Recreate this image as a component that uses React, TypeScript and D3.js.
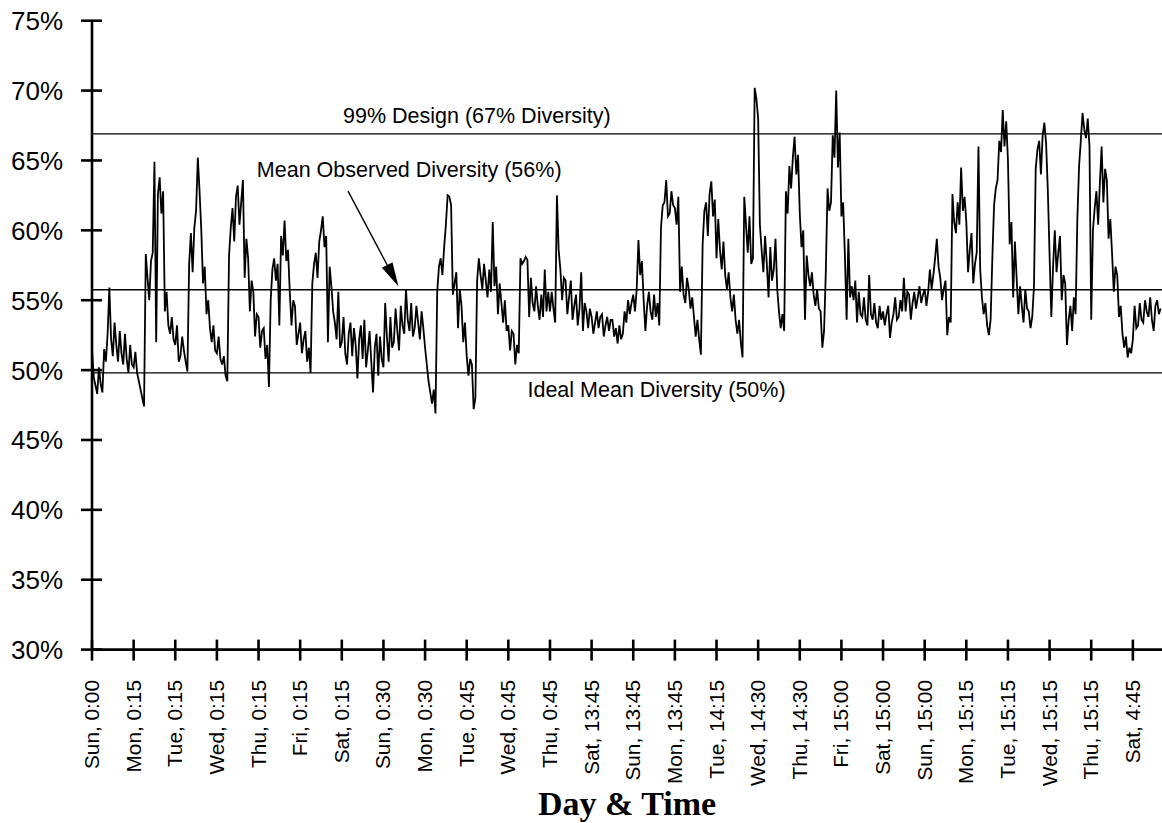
import React from 'react';
import * as d3 from 'd3';

// tick labels along the time axis, one per day marker
const dayTicks = [
  'Sun, 0:00', 'Mon, 0:15', 'Tue, 0:15', 'Wed, 0:15', 'Thu, 0:15', 'Fri, 0:15',
  'Sat, 0:15', 'Sun, 0:30', 'Mon, 0:30', 'Tue, 0:45', 'Wed, 0:45', 'Thu, 0:45',
  'Sat, 13:45', 'Sun, 13:45', 'Mon, 13:45', 'Tue, 14:15', 'Wed, 14:30', 'Thu, 14:30',
  'Fri, 15:00', 'Sat, 15:00', 'Sun, 15:00', 'Mon, 15:15', 'Tue, 15:15', 'Wed, 15:15',
  'Thu, 15:15', 'Sat, 4:45',
];

const PER_TICK = 24;

// observed diversity (%), 24 samples per day marker
const diversity = [
  51.5, 49.5, 48.9, 48.3, 50.2, 49.0, 48.4, 51.5, 50.6, 52.6, 55.9, 52.2, 51.0, 53.4, 51.8, 50.6, 52.8, 51.2, 50.4, 52.6, 50.8, 49.8, 51.8, 50.4,
  50.2, 51.3, 49.8, 49.2, 48.6, 48.0, 47.4, 58.3, 56.6, 55.0, 57.8, 58.4, 64.9, 52.0, 62.6, 63.8, 61.2, 62.8, 54.2, 55.6, 53.2, 52.6, 53.8, 52.2,
  51.8, 53.2, 50.6, 51.0, 52.4, 51.4, 50.6, 49.9, 57.6, 59.8, 57.0, 60.2, 61.4, 65.2, 62.8, 60.0, 56.2, 57.4, 54.0, 55.0, 53.0, 52.0, 53.2, 51.4,
  51.2, 52.4, 50.8, 50.4, 51.0, 49.6, 49.2, 58.2, 60.2, 61.6, 59.2, 62.4, 63.2, 60.4, 62.0, 63.6, 56.6, 59.4, 58.0, 54.2, 56.4, 55.6, 52.4, 54.0,
  53.8, 51.6, 52.8, 53.0, 50.8, 51.8, 48.8, 55.0, 57.2, 58.0, 56.4, 57.6, 53.2, 59.6, 58.2, 60.7, 57.8, 58.6, 55.6, 53.2, 55.0, 54.6, 51.8, 52.6,
  53.4, 51.2, 52.2, 52.8, 50.6, 51.6, 49.8, 56.2, 57.6, 58.4, 56.6, 59.2, 60.0, 61.0, 58.8, 59.6, 52.0, 57.4, 56.0, 54.2, 53.4, 52.2, 55.6, 51.6,
  52.0, 53.8, 51.2, 50.4, 52.6, 53.4, 51.0, 53.0, 51.8, 49.4, 52.2, 53.2, 50.8, 53.6, 50.2, 51.4, 52.8, 50.6, 48.4, 51.6, 52.6, 49.6, 52.4, 50.8,
  50.2, 54.8, 52.4, 50.6, 53.8, 51.6, 52.0, 54.4, 52.8, 51.4, 54.6, 53.2, 52.6, 55.8, 53.6, 52.8, 54.8, 52.4, 53.0, 54.6, 53.4, 52.2, 54.2, 53.0,
  51.6, 50.4, 49.2, 48.4, 47.6, 48.6, 46.9, 55.6, 57.4, 58.0, 56.8, 58.8, 60.4, 62.5, 62.4, 61.8, 55.4, 56.2, 57.0, 53.0, 55.8, 54.6, 52.0, 53.4,
  51.0, 49.6, 50.8, 50.4, 47.2, 48.0, 56.4, 58.0, 56.8, 55.8, 57.6, 56.4, 55.2, 57.2, 55.6, 60.6, 56.0, 57.4, 54.0, 56.2, 54.8, 53.4, 55.0, 52.8,
  53.2, 51.4, 52.8, 52.6, 50.4, 51.8, 51.2, 58.0, 57.6, 57.8, 58.1, 57.9, 53.8, 56.6, 54.8, 54.2, 56.0, 54.6, 53.6, 55.4, 53.8, 57.2, 54.2, 55.6,
  54.2, 55.6, 54.4, 53.4, 62.5, 58.6, 57.2, 55.0, 56.6, 56.4, 54.0, 55.2, 56.4, 53.6, 54.6, 55.4, 53.2, 54.4, 57.0, 52.8, 54.8, 54.2, 53.0, 54.4,
  53.8, 52.6, 53.4, 54.2, 53.0, 53.8, 54.0, 52.4, 53.2, 53.8, 52.8, 53.6, 53.6, 52.4, 53.0, 51.9, 53.2, 52.2, 52.6, 54.2, 53.4, 55.0, 54.0, 54.8,
  55.4, 54.2, 55.8, 59.3, 56.8, 57.8, 55.0, 52.8, 54.6, 55.6, 54.2, 53.6, 55.4, 53.8, 54.8, 53.2, 60.2, 61.8, 62.0, 63.6, 61.0, 61.2, 62.8, 61.8,
  61.6, 60.4, 62.4, 55.6, 57.4, 55.4, 54.8, 56.6, 55.8, 54.4, 55.2, 53.8, 52.4, 53.6, 52.2, 51.1, 59.0, 61.4, 62.0, 59.6, 62.6, 63.5, 61.0, 62.2,
  58.0, 60.8, 58.6, 57.2, 59.2, 56.8, 55.8, 57.0, 55.2, 54.2, 55.4, 53.6, 52.6, 53.6, 52.0, 50.9, 62.4, 60.4, 58.4, 61.0, 57.6, 58.0, 70.2, 69.4,
  68.0, 60.4, 58.6, 57.0, 59.6, 57.6, 55.2, 58.8, 56.4, 57.2, 59.4, 55.8, 54.2, 53.0, 54.0, 52.8, 62.8, 61.2, 64.6, 63.0, 65.2, 66.7, 64.0, 65.4,
  61.2, 58.8, 60.0, 53.6, 58.2, 56.8, 56.0, 57.0, 55.4, 54.6, 55.8, 54.4, 54.2, 51.6, 52.8, 57.0, 63.0, 61.4, 62.0, 66.8, 65.2, 70.0, 64.5, 67.0,
  61.0, 62.0, 58.2, 53.6, 59.4, 55.2, 56.0, 55.0, 56.4, 53.4, 55.6, 54.0, 53.8, 55.2, 53.6, 53.2, 56.8, 54.0, 53.6, 54.8, 53.4, 53.0, 54.6, 53.6,
  54.2, 53.2, 54.0, 54.6, 52.3, 53.4, 54.0, 55.2, 53.6, 53.8, 55.0, 54.2, 56.6, 54.2, 55.6, 55.4, 53.6, 54.8, 55.6, 54.4, 55.2, 56.0, 54.8, 55.4,
  55.8, 54.6, 55.6, 57.2, 55.8, 56.8, 58.0, 59.4, 57.4, 56.6, 55.0, 55.8, 56.4, 52.5, 53.8, 53.4, 62.6, 60.6, 59.8, 62.0, 60.4, 64.5, 61.4, 62.4,
  60.6, 57.0, 58.6, 59.8, 56.2, 57.6, 58.4, 66.0, 57.2, 55.2, 54.0, 54.8, 53.2, 52.5, 53.6, 58.0, 61.8, 63.0, 63.6, 66.4, 65.6, 68.6, 66.0, 67.8,
  65.0, 59.0, 60.6, 55.2, 59.2, 56.6, 54.0, 56.0, 54.6, 53.4, 55.8, 54.4, 54.2, 53.0, 53.8, 56.0, 64.4, 65.8, 66.4, 64.0, 66.8, 67.7, 66.2, 62.8,
  58.2, 53.8, 57.4, 60.0, 57.0, 58.4, 59.6, 55.0, 56.8, 56.2, 51.8, 53.6, 54.6, 52.8, 55.2, 54.0, 60.8, 64.6, 66.4, 68.4, 67.2, 66.6, 68.0, 66.0,
  53.6, 60.0, 61.6, 62.8, 60.4, 63.4, 66.0, 62.0, 64.4, 63.6, 59.4, 60.8, 58.4, 55.6, 57.4, 56.8, 53.8, 54.6, 52.6, 51.6, 52.4, 50.9, 51.6, 51.2,
  52.2, 54.6, 53.0, 53.2, 54.8, 53.6, 53.4, 55.0, 54.2, 53.8, 55.2, 53.6, 52.8, 54.6, 55.0, 54.0, 54.4,
];

const yTicks = [30, 35, 40, 45, 50, 55, 60, 65, 70, 75];

// reference levels and their captions
const refLevels = [66.9, 55.75, 49.8];
const refCaptions = [
  { text: '99% Design (67% Diversity)', x: 6.03, y: 67.7 },
  { text: 'Mean Observed Diversity (56%)', x: 3.96, y: 63.85 },
  { text: 'Ideal Mean Diversity (50%)', x: 10.46, y: 48.1 },
];
const arrowFrom = [6.15, 62.8];
const arrowTo = [7.36, 56.0];

const W = 1162;
const H = 823;
const sans = 'Arial, "Liberation Sans", Helvetica, sans-serif';

export default function App() {
  const x = d3.scaleLinear().domain([0, 25.7]).range([92, 1162]);
  const y = d3.scaleLinear().domain([30, 75]).range([649.6, 20.7]);

  const linePath = d3.line<number>()
    .x((d, i) => x(i / PER_TICK))
    .y(d => y(d))(diversity);

  // arrow head
  const ax0 = x(arrowFrom[0]), ay0 = y(arrowFrom[1]);
  const ax1 = x(arrowTo[0]), ay1 = y(arrowTo[1]);
  const len = Math.hypot(ax1 - ax0, ay1 - ay0);
  const ux = (ax1 - ax0) / len, uy = (ay1 - ay0) / len;
  const bx = ax1 - ux * 24, by = ay1 - uy * 24;
  const head = `${ax1},${ay1} ${bx - uy * 6},${by + ux * 6} ${bx + uy * 6},${by - ux * 6}`;

  const axisY = y(30);

  return (
    <svg width={W} height={H} style={{ position: 'absolute', left: 0, top: 0, background: '#fff' }}>
      {/* reference lines */}
      {refLevels.map((v, i) => (
        <line key={i} x1={x(0)} x2={W} y1={y(v)} y2={y(v)} stroke="#000" strokeWidth={1.4} />
      ))}

      {/* series */}
      <path d={linePath ?? ''} fill="none" stroke="#000" strokeWidth={1.8} />

      {/* axes */}
      <line x1={x(0)} x2={x(0)} y1={y(75)} y2={axisY} stroke="#000" strokeWidth={2.6} />
      <line x1={x(0)} x2={W} y1={axisY} y2={axisY} stroke="#000" strokeWidth={2.6} />
      {yTicks.map(t => (
        <g key={t}>
          <line x1={x(0) - 11} x2={x(0) + 10} y1={y(t)} y2={y(t)} stroke="#000" strokeWidth={2.6} />
          <text x={63} y={y(t) + 9.5} textAnchor="end" fontFamily={sans} fontSize={26}>{t}%</text>
        </g>
      ))}
      {dayTicks.map((lab, i) => (
        <g key={lab + i}>
          <line x1={x(i)} x2={x(i)} y1={axisY - 10} y2={axisY + 11} stroke="#000" strokeWidth={2.6} />
          <text transform={`translate(${x(i) + 7},680) rotate(-90)`} textAnchor="end"
            fontFamily={sans} fontSize={20.8}>{lab}</text>
        </g>
      ))}

      {/* captions */}
      {refCaptions.map(c => (
        <text key={c.text} x={x(c.x)} y={y(c.y)} fontFamily={sans} fontSize={21.5}>{c.text}</text>
      ))}
      <line x1={ax0} y1={ay0} x2={bx} y2={by} stroke="#000" strokeWidth={1.4} />
      <polygon points={head} fill="#000" />

      <text x={(x(0) + W) / 2} y={815} textAnchor="middle"
        fontFamily='"Times New Roman", "Liberation Serif", serif' fontWeight="bold" fontSize={34}>
        Day &amp; Time
      </text>
    </svg>
  );
}
